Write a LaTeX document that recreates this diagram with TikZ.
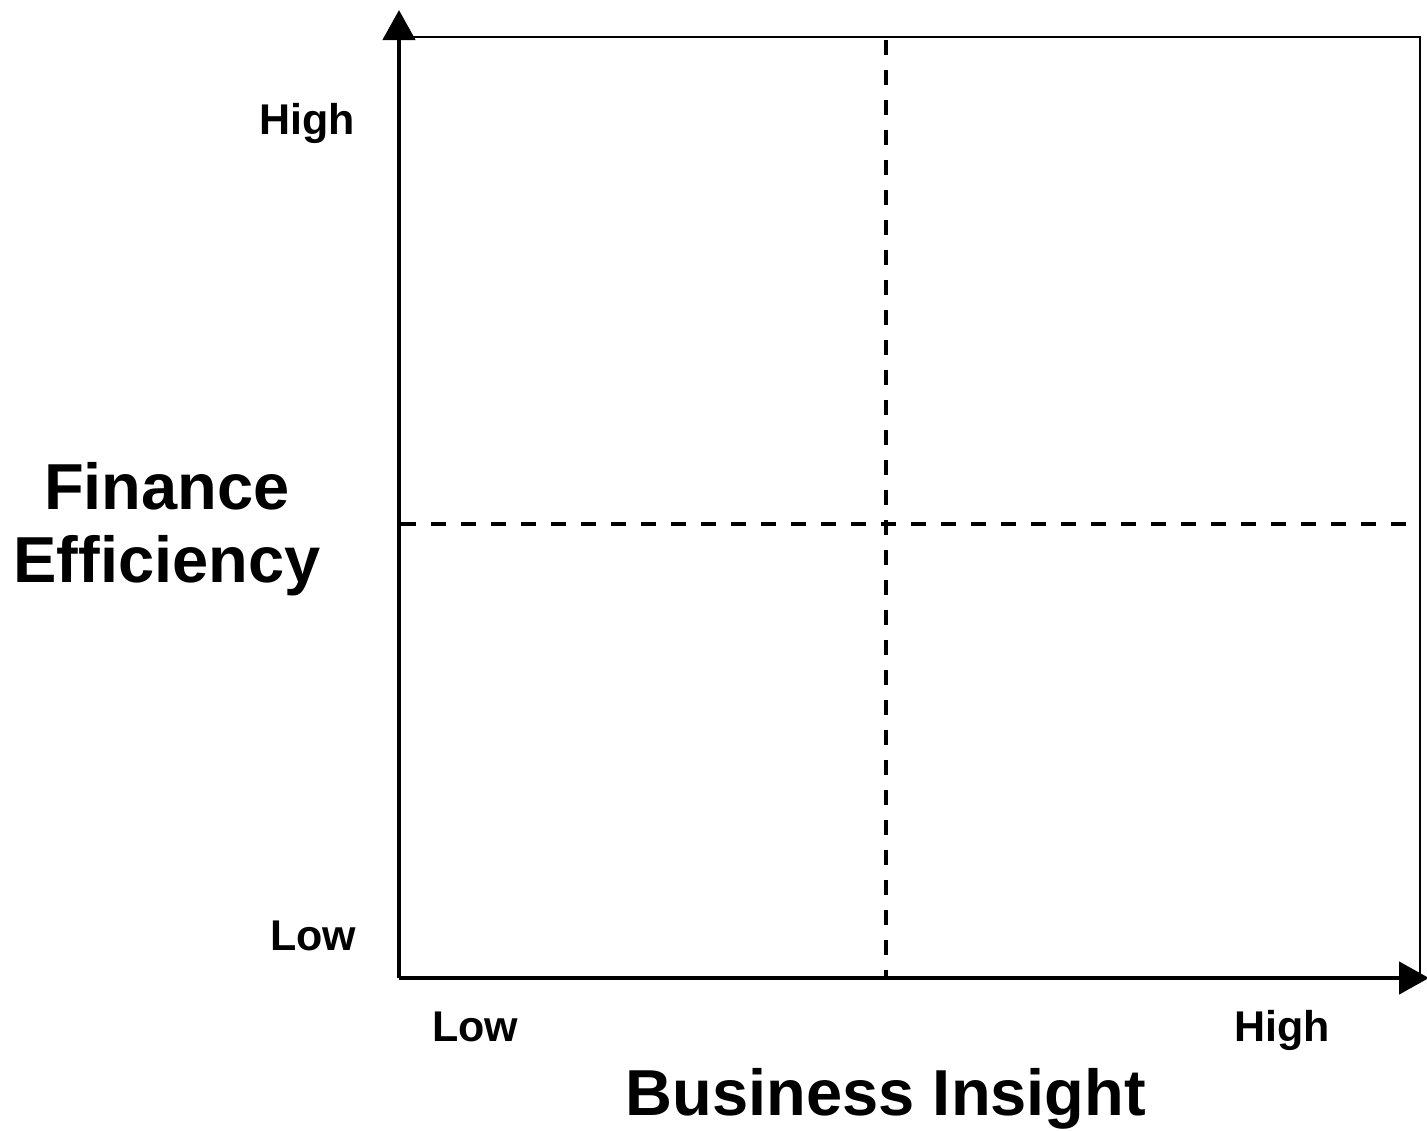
\documentclass[tikz,border=0pt]{standalone}
\usepackage{fontspec}
\setmainfont{Liberation Sans}
\usetikzlibrary{arrows.meta}
\begin{document}
\begin{tikzpicture}[x=1pt,y=-1pt,
  axis/.style={line width=4.6pt,-{Triangle[length=30pt,width=32pt]}},
  frame/.style={line width=1.8pt},
  divider/.style={line width=3.2pt,dash pattern=on 15pt off 15pt},
  small/.style={font=\bfseries\fontsize{43}{43}\selectfont,anchor=base,inner sep=0pt},
  big/.style={font=\bfseries\fontsize{65}{65}\selectfont,anchor=base,inner sep=0pt}]
\useasboundingbox (0,0) rectangle (1427,1130);
\fill[white] (0,0) rectangle (1427,1130);
\coordinate (O) at (399,978);
\coordinate (Ytop) at (399,10);
\coordinate (Xend) at (1429,978);
\coordinate (TL) at (399,37);
\coordinate (TR) at (1420,37);
\coordinate (BR) at (1420,978);
\coordinate (VT) at (886,40);
\coordinate (VB) at (886,978);
\coordinate (HL) at (401,524);
\coordinate (HR) at (1420,524);
% frame
\draw[frame] (TL) -- (TR) -- (BR);
% dividers
\draw[divider] (VT) -- (VB);
\draw[divider] (HL) -- (HR);
% axes
\draw[axis] (O) -- (Ytop);
\draw[axis] (O) -- (Xend);
% labels
\node[small] (yhigh) at (307,134) {High};
\node[small] (ylow) at (313,950) {Low};
\node[small] (xlow) at (475,1041) {Low};
\node[small] (xhigh) at (1282,1041) {High};
\node[big] (fin) at (167,509) {Finance};
\node[big] (eff) at (167,582) {Efficiency};
\node[big] (bi) at (886,1115) {Business Insight};
\end{tikzpicture}
\end{document}
